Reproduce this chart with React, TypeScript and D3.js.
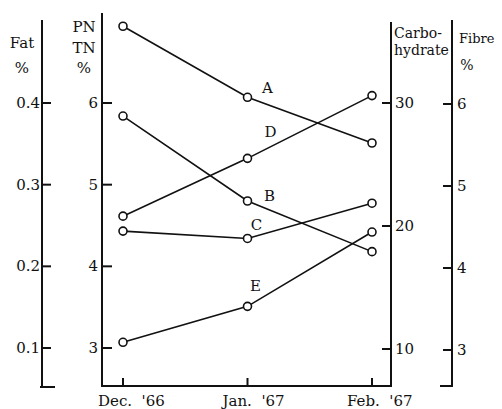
import React from "react";
import { scaleLinear, scalePoint, line } from "d3";

const months = ["Dec.  '66", "Jan.  '67", "Feb.  '67"];

// each series on its own axis
const seriesA = [6.94, 6.07, 5.51]; // PN/TN %
const seriesB = [0.384, 0.28, 0.218]; // Fat %
const seriesC = [4.45, 4.36, 4.79]; // Fibre %
const seriesD = [20.8, 25.5, 30.6]; // Carbohydrate
const seriesE = [3.07, 3.51, 4.42]; // PN/TN %

const fatTicks = [0.1, 0.2, 0.3, 0.4];
const pnTicks = [3, 4, 5, 6];
const carbTicks = [10, 20, 30];
const fibreTicks = [3, 4, 5, 6];

const font = "'DejaVu Serif', serif";

const App = () => {
  const width = 502;
  const height = 409;
  const base = 386;

  const x = scalePoint<string>().domain(months).range([123, 372]);
  const fatY = scaleLinear().domain([0.1, 0.4]).range([348, 103]);
  const pnY = scaleLinear().domain([3, 6]).range([348, 103]);
  const carbY = scaleLinear().domain([10, 30]).range([349, 103]);
  const fibreY = scaleLinear().domain([3, 6]).range([350, 104]);

  const series = [
    { name: "A", values: seriesA, y: pnY, dx: 20, dy: -9 },
    { name: "B", values: seriesB, y: fatY, dx: 22, dy: -5 },
    { name: "C", values: seriesC, y: fibreY, dx: 9, dy: -13 },
    { name: "D", values: seriesD, y: carbY, dx: 23, dy: -26 },
    { name: "E", values: seriesE, y: pnY, dx: 8, dy: -20 },
  ];

  const fatX = 42;
  const pnX = 102;
  const carbX = 391;
  const fibreX = 452;

  return (
    <svg
      width={width}
      height={height}
      style={{ position: "absolute", left: 0, top: 0, background: "#fff" }}
      fontFamily={font}
      fill="#111"
    >
      {/* axis lines */}
      <g stroke="#111" strokeWidth={2} fill="none">
        <path d={`M${fatX},20V${base + 1}M${fatX - 2},${base + 1}H${fatX + 13}`} />
        <path d={`M${pnX},13V${base}H${carbX}V22`} />
        <path d={`M${fibreX},20V${base}M${fibreX + 1},${base}H${fibreX - 12}`} />
      </g>

      {/* fat axis */}
      {fatTicks.map((t) => (
        <g key={"f" + t}>
          <line x1={fatX} x2={fatX + 9} y1={fatY(t)} y2={fatY(t)} stroke="#111" strokeWidth={2} />
          <text x={fatX - 2} y={fatY(t) + 5} textAnchor="end" fontSize={15}>
            {t.toFixed(1)}
          </text>
        </g>
      ))}
      <text x={22} y={48} textAnchor="middle" fontSize={15}>Fat</text>
      <text x={22} y={73} textAnchor="middle" fontSize={15}>%</text>

      {/* PN/TN axis */}
      {pnTicks.map((t) => (
        <g key={"p" + t}>
          <line x1={pnX} x2={pnX + 10} y1={pnY(t)} y2={pnY(t)} stroke="#111" strokeWidth={2} />
          <text x={pnX - 4} y={pnY(t) + 5} textAnchor="end" fontSize={15}>
            {t}
          </text>
        </g>
      ))}
      <text x={84} y={32} textAnchor="middle" fontSize={15}>PN</text>
      <text x={84} y={53} textAnchor="middle" fontSize={15}>TN</text>
      <text x={84} y={73} textAnchor="middle" fontSize={15}>%</text>

      {/* carbohydrate axis */}
      {carbTicks.map((t) => (
        <g key={"c" + t}>
          <line x1={carbX - 9} x2={carbX} y1={carbY(t)} y2={carbY(t)} stroke="#111" strokeWidth={2} />
          <text x={carbX + 4} y={carbY(t) + 5} fontSize={15}>
            {t}
          </text>
        </g>
      ))}
      <text x={394} y={38} fontSize={14}>Carbo-</text>
      <text x={394} y={55} fontSize={14}>hydrate</text>

      {/* fibre axis */}
      {fibreTicks.map((t) => (
        <g key={"b" + t}>
          <line x1={fibreX - 9} x2={fibreX} y1={fibreY(t)} y2={fibreY(t)} stroke="#111" strokeWidth={2} />
          <text x={fibreX + 5} y={fibreY(t) + 5} fontSize={15}>
            {t}
          </text>
        </g>
      ))}
      <text x={459} y={43} fontSize={13}>Fibre</text>
      <text x={467} y={70} textAnchor="middle" fontSize={14}>%</text>

      {/* month ticks */}
      {months.map((m) => (
        <g key={m}>
          <line x1={x(m)} x2={x(m)} y1={base} y2={base - 8} stroke="#111" strokeWidth={2} />
          <text x={(x(m) ?? 0) - 25} y={406} fontSize={15} style={{ whiteSpace: "pre" }}>
            {m}
          </text>
        </g>
      ))}

      {/* series */}
      {series.map((s) => {
        const pts = s.values.map((v, i) => [x(months[i]) ?? 0, s.y(v)] as [number, number]);
        return (
          <g key={s.name}>
            <path d={line()(pts) ?? ""} fill="none" stroke="#111" strokeWidth={1.6} />
            {pts.map((p, i) => (
              <circle key={i} cx={p[0]} cy={p[1]} r={4} fill="#fff" stroke="#111" strokeWidth={1.6} />
            ))}
            <text x={pts[1][0] + s.dx} y={pts[1][1] + s.dy + 5} textAnchor="middle" fontSize={15}>
              {s.name}
            </text>
          </g>
        );
      })}
    </svg>
  );
};

export default App;
